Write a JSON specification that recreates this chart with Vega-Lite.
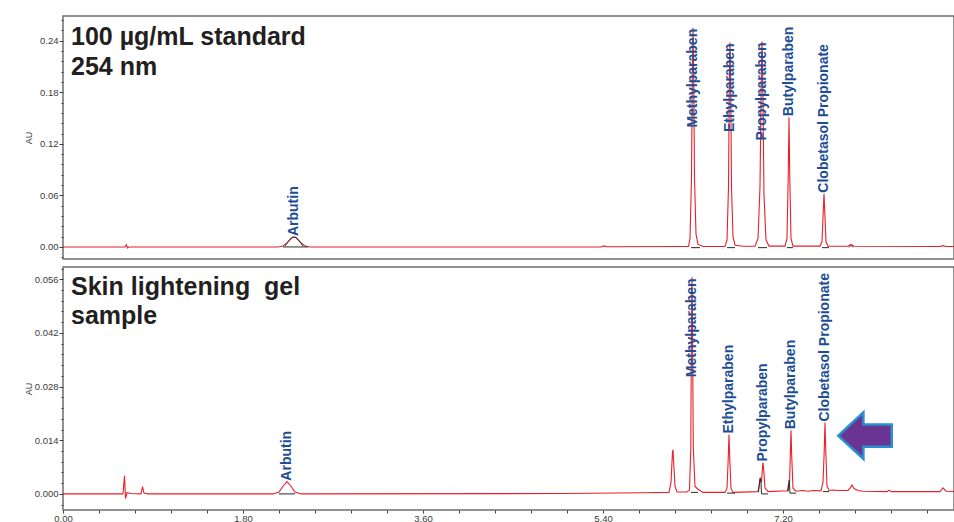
{
  "$schema": "https://vega.github.io/schema/vega-lite/v6.json",
  "padding": {"left": 23, "top": 15, "right": 0, "bottom": 0},
  "spacing": 6,
  "config": {
    "font": "Liberation Sans",
    "view": {"stroke": "#6e6e6e", "strokeWidth": 1.5},
    "axis": {
      "domain": false,
      "grid": false,
      "tickColor": "#404040",
      "tickWidth": 1,
      "labelColor": "#3a3a3a",
      "labelFont": "Liberation Sans",
      "labelFontSize": 9.5,
      "labelPadding": 1,
      "titleFont": "Liberation Sans",
      "titleFontSize": 9,
      "titleFontWeight": "normal",
      "titleColor": "#3a3a3a"
    }
  },
  "datasets": {
    "trace": [
      {"panel": "standard", "rt": 0, "au": 0},
      {"panel": "standard", "rt": 0.62, "au": 0},
      {"panel": "standard", "rt": 0.635, "au": 0.0025},
      {"panel": "standard", "rt": 0.645, "au": -0.001},
      {"panel": "standard", "rt": 0.66, "au": 0},
      {"panel": "standard", "rt": 2.15, "au": 0},
      {"panel": "standard", "rt": 2.2, "au": 0.001},
      {"panel": "standard", "rt": 2.25, "au": 0.006},
      {"panel": "standard", "rt": 2.29, "au": 0.011},
      {"panel": "standard", "rt": 2.31, "au": 0.0115},
      {"panel": "standard", "rt": 2.33, "au": 0.011},
      {"panel": "standard", "rt": 2.37, "au": 0.006},
      {"panel": "standard", "rt": 2.42, "au": 0.001},
      {"panel": "standard", "rt": 2.47, "au": 0},
      {"panel": "standard", "rt": 5.38, "au": 0},
      {"panel": "standard", "rt": 5.41, "au": 0.0012},
      {"panel": "standard", "rt": 5.44, "au": 0.0003},
      {"panel": "standard", "rt": 6.22, "au": 0.0005},
      {"panel": "standard", "rt": 6.255, "au": 0.0005},
      {"panel": "standard", "rt": 6.27, "au": 0.01},
      {"panel": "standard", "rt": 6.285, "au": 0.08},
      {"panel": "standard", "rt": 6.293, "au": 0.2},
      {"panel": "standard", "rt": 6.3, "au": 0.255},
      {"panel": "standard", "rt": 6.307, "au": 0.2},
      {"panel": "standard", "rt": 6.315, "au": 0.08},
      {"panel": "standard", "rt": 6.33, "au": 0.015},
      {"panel": "standard", "rt": 6.35, "au": 0.003},
      {"panel": "standard", "rt": 6.4, "au": 0.0005},
      {"panel": "standard", "rt": 6.62, "au": 0.0005},
      {"panel": "standard", "rt": 6.64, "au": 0.008},
      {"panel": "standard", "rt": 6.655, "au": 0.07},
      {"panel": "standard", "rt": 6.663, "au": 0.19},
      {"panel": "standard", "rt": 6.67, "au": 0.238},
      {"panel": "standard", "rt": 6.677, "au": 0.19},
      {"panel": "standard", "rt": 6.685, "au": 0.07},
      {"panel": "standard", "rt": 6.7, "au": 0.012},
      {"panel": "standard", "rt": 6.72, "au": 0.002},
      {"panel": "standard", "rt": 6.8, "au": 0.0008},
      {"panel": "standard", "rt": 6.92, "au": 0.001},
      {"panel": "standard", "rt": 6.95, "au": 0.01},
      {"panel": "standard", "rt": 6.97, "au": 0.07},
      {"panel": "standard", "rt": 6.982, "au": 0.19},
      {"panel": "standard", "rt": 6.99, "au": 0.239},
      {"panel": "standard", "rt": 6.998, "au": 0.19},
      {"panel": "standard", "rt": 7.01, "au": 0.06},
      {"panel": "standard", "rt": 7.03, "au": 0.008},
      {"panel": "standard", "rt": 7.06, "au": 0.001},
      {"panel": "standard", "rt": 7.22, "au": 0.001},
      {"panel": "standard", "rt": 7.24, "au": 0.01},
      {"panel": "standard", "rt": 7.252, "au": 0.08},
      {"panel": "standard", "rt": 7.26, "au": 0.151},
      {"panel": "standard", "rt": 7.268, "au": 0.08},
      {"panel": "standard", "rt": 7.28, "au": 0.01},
      {"panel": "standard", "rt": 7.3, "au": 0.001},
      {"panel": "standard", "rt": 7.57, "au": 0.001},
      {"panel": "standard", "rt": 7.59, "au": 0.006},
      {"panel": "standard", "rt": 7.6, "au": 0.035},
      {"panel": "standard", "rt": 7.61, "au": 0.062},
      {"panel": "standard", "rt": 7.62, "au": 0.035},
      {"panel": "standard", "rt": 7.63, "au": 0.006},
      {"panel": "standard", "rt": 7.65, "au": 0.001},
      {"panel": "standard", "rt": 7.85, "au": 0.0008},
      {"panel": "standard", "rt": 7.88, "au": 0.003},
      {"panel": "standard", "rt": 7.91, "au": 0.0008},
      {"panel": "standard", "rt": 8.77, "au": 0.0005},
      {"panel": "standard", "rt": 8.8, "au": 0.0015},
      {"panel": "standard", "rt": 8.83, "au": 0.0005},
      {"panel": "standard", "rt": 8.92, "au": 0.0005},

      {"panel": "sample", "rt": 0, "au": 0},
      {"panel": "sample", "rt": 0.6, "au": 0},
      {"panel": "sample", "rt": 0.615, "au": 0.0047},
      {"panel": "sample", "rt": 0.625, "au": -0.0012},
      {"panel": "sample", "rt": 0.64, "au": 0.0003},
      {"panel": "sample", "rt": 0.68, "au": 0.0001},
      {"panel": "sample", "rt": 0.78, "au": 0},
      {"panel": "sample", "rt": 0.795, "au": 0.0019},
      {"panel": "sample", "rt": 0.81, "au": 0.0002},
      {"panel": "sample", "rt": 0.85, "au": 0},
      {"panel": "sample", "rt": 2.1, "au": 0},
      {"panel": "sample", "rt": 2.16, "au": 0.0005},
      {"panel": "sample", "rt": 2.2, "au": 0.002},
      {"panel": "sample", "rt": 2.24, "au": 0.0032},
      {"panel": "sample", "rt": 2.28, "au": 0.002},
      {"panel": "sample", "rt": 2.32, "au": 0.0005},
      {"panel": "sample", "rt": 2.38, "au": 0},
      {"panel": "sample", "rt": 5.0, "au": 0.0001},
      {"panel": "sample", "rt": 5.8, "au": 0.0003},
      {"panel": "sample", "rt": 6.06, "au": 0.0004},
      {"panel": "sample", "rt": 6.08, "au": 0.003},
      {"panel": "sample", "rt": 6.095, "au": 0.011},
      {"panel": "sample", "rt": 6.1, "au": 0.0115},
      {"panel": "sample", "rt": 6.105, "au": 0.009},
      {"panel": "sample", "rt": 6.12, "au": 0.002},
      {"panel": "sample", "rt": 6.14, "au": 0.0005},
      {"panel": "sample", "rt": 6.24, "au": 0.0005},
      {"panel": "sample", "rt": 6.265, "au": 0.001},
      {"panel": "sample", "rt": 6.278, "au": 0.012},
      {"panel": "sample", "rt": 6.285, "au": 0.045},
      {"panel": "sample", "rt": 6.29, "au": 0.0565},
      {"panel": "sample", "rt": 6.295, "au": 0.045},
      {"panel": "sample", "rt": 6.303, "au": 0.012},
      {"panel": "sample", "rt": 6.32, "au": 0.002},
      {"panel": "sample", "rt": 6.35, "au": 0.0012},
      {"panel": "sample", "rt": 6.4, "au": 0.0004},
      {"panel": "sample", "rt": 6.62, "au": 0.0004},
      {"panel": "sample", "rt": 6.64, "au": 0.0015},
      {"panel": "sample", "rt": 6.652, "au": 0.009},
      {"panel": "sample", "rt": 6.66, "au": 0.0155},
      {"panel": "sample", "rt": 6.668, "au": 0.009},
      {"panel": "sample", "rt": 6.68, "au": 0.0015},
      {"panel": "sample", "rt": 6.7, "au": 0.0004},
      {"panel": "sample", "rt": 6.95, "au": 0.0006},
      {"panel": "sample", "rt": 6.96, "au": 0.002},
      {"panel": "sample", "rt": 6.975, "au": 0.0038},
      {"panel": "sample", "rt": 6.985, "au": 0.003},
      {"panel": "sample", "rt": 6.995, "au": 0.007},
      {"panel": "sample", "rt": 7.0, "au": 0.0082},
      {"panel": "sample", "rt": 7.008, "au": 0.006},
      {"panel": "sample", "rt": 7.02, "au": 0.0015},
      {"panel": "sample", "rt": 7.05, "au": 0.0006},
      {"panel": "sample", "rt": 7.245, "au": 0.0008},
      {"panel": "sample", "rt": 7.255, "au": 0.0025},
      {"panel": "sample", "rt": 7.265, "au": 0.003},
      {"panel": "sample", "rt": 7.273, "au": 0.01},
      {"panel": "sample", "rt": 7.28, "au": 0.0166},
      {"panel": "sample", "rt": 7.287, "au": 0.01},
      {"panel": "sample", "rt": 7.3, "au": 0.0015},
      {"panel": "sample", "rt": 7.33, "au": 0.0007},
      {"panel": "sample", "rt": 7.4, "au": 0.0009},
      {"panel": "sample", "rt": 7.45, "au": 0.0007},
      {"panel": "sample", "rt": 7.5, "au": 0.0009},
      {"panel": "sample", "rt": 7.58, "au": 0.0008},
      {"panel": "sample", "rt": 7.6, "au": 0.003},
      {"panel": "sample", "rt": 7.612, "au": 0.011},
      {"panel": "sample", "rt": 7.62, "au": 0.0186},
      {"panel": "sample", "rt": 7.628, "au": 0.011},
      {"panel": "sample", "rt": 7.64, "au": 0.002},
      {"panel": "sample", "rt": 7.66, "au": 0.0009},
      {"panel": "sample", "rt": 7.7, "au": 0.001},
      {"panel": "sample", "rt": 7.75, "au": 0.0009},
      {"panel": "sample", "rt": 7.85, "au": 0.0009},
      {"panel": "sample", "rt": 7.87, "au": 0.0015},
      {"panel": "sample", "rt": 7.89, "au": 0.0023},
      {"panel": "sample", "rt": 7.91, "au": 0.0014},
      {"panel": "sample", "rt": 7.95, "au": 0.0009},
      {"panel": "sample", "rt": 8.0, "au": 0.0007},
      {"panel": "sample", "rt": 8.24, "au": 0.0006},
      {"panel": "sample", "rt": 8.26, "au": 0.001},
      {"panel": "sample", "rt": 8.28, "au": 0.0006},
      {"panel": "sample", "rt": 8.77, "au": 0.0006},
      {"panel": "sample", "rt": 8.8, "au": 0.0016},
      {"panel": "sample", "rt": 8.83, "au": 0.0007},
      {"panel": "sample", "rt": 8.92, "au": 0.0006}
    ],
    "base": [
      {"panel": "standard", "seg": "a1", "rt": 2.2, "au": 0},
      {"panel": "standard", "seg": "a1", "rt": 2.45, "au": 0},
      {"panel": "standard", "seg": "a2", "rt": 2.22, "au": 0.001},
      {"panel": "standard", "seg": "a2", "rt": 2.25, "au": 0.006},
      {"panel": "standard", "seg": "a2", "rt": 2.29, "au": 0.011},
      {"panel": "standard", "seg": "a2", "rt": 2.31, "au": 0.0115},
      {"panel": "standard", "seg": "a2", "rt": 2.33, "au": 0.011},
      {"panel": "standard", "seg": "a2", "rt": 2.37, "au": 0.006},
      {"panel": "standard", "seg": "a2", "rt": 2.4, "au": 0.001},
      {"panel": "standard", "seg": "m", "rt": 6.28, "au": -0.0008},
      {"panel": "standard", "seg": "m", "rt": 6.37, "au": -0.0008},
      {"panel": "standard", "seg": "e", "rt": 6.64, "au": -0.0008},
      {"panel": "standard", "seg": "e", "rt": 6.72, "au": -0.0008},
      {"panel": "standard", "seg": "p", "rt": 6.95, "au": -0.0008},
      {"panel": "standard", "seg": "p", "rt": 7.04, "au": -0.0008},
      {"panel": "standard", "seg": "b", "rt": 7.24, "au": -0.0008},
      {"panel": "standard", "seg": "b", "rt": 7.3, "au": -0.0008},
      {"panel": "standard", "seg": "c", "rt": 7.59, "au": -0.0008},
      {"panel": "standard", "seg": "c", "rt": 7.66, "au": -0.0008},
      {"panel": "standard", "seg": "u", "rt": 7.86, "au": -0.0005},
      {"panel": "standard", "seg": "u", "rt": 7.88, "au": 0.002},
      {"panel": "standard", "seg": "u", "rt": 7.9, "au": -0.0005},
      {"panel": "sample", "seg": "a1", "rt": 2.16, "au": 0},
      {"panel": "sample", "seg": "a1", "rt": 2.32, "au": 0},
      {"panel": "sample", "seg": "m", "rt": 6.28, "au": 0.0004},
      {"panel": "sample", "seg": "m", "rt": 6.35, "au": 0.0004},
      {"panel": "sample", "seg": "e", "rt": 6.64, "au": 0.0002},
      {"panel": "sample", "seg": "e", "rt": 6.72, "au": 0.0002},
      {"panel": "sample", "seg": "p1", "rt": 6.955, "au": 0.0005},
      {"panel": "sample", "seg": "p1", "rt": 6.97, "au": 0.0042},
      {"panel": "sample", "seg": "p1", "rt": 6.978, "au": 0.004},
      {"panel": "sample", "seg": "p1", "rt": 6.985, "au": 0},
      {"panel": "sample", "seg": "p2", "rt": 6.985, "au": 0},
      {"panel": "sample", "seg": "p2", "rt": 7.05, "au": 0},
      {"panel": "sample", "seg": "b1", "rt": 7.25, "au": 0.0006},
      {"panel": "sample", "seg": "b1", "rt": 7.262, "au": 0.0036},
      {"panel": "sample", "seg": "b1", "rt": 7.27, "au": 0.0002},
      {"panel": "sample", "seg": "b2", "rt": 7.27, "au": 0.0002},
      {"panel": "sample", "seg": "b2", "rt": 7.33, "au": 0.0002},
      {"panel": "sample", "seg": "c", "rt": 7.6, "au": 0.0006},
      {"panel": "sample", "seg": "c", "rt": 7.66, "au": 0.0006}
    ],
    "labels": [
      {"panel": "standard", "name": "Arbutin", "rt": 2.31, "height": 0.0115},
      {"panel": "standard", "name": "Methylparaben", "rt": 6.3, "height": 0.255},
      {"panel": "standard", "name": "Ethylparaben", "rt": 6.67, "height": 0.238},
      {"panel": "standard", "name": "Propylparaben", "rt": 6.99, "height": 0.239},
      {"panel": "standard", "name": "Butylparaben", "rt": 7.26, "height": 0.151},
      {"panel": "standard", "name": "Clobetasol Propionate", "rt": 7.61, "height": 0.062},
      {"panel": "sample", "name": "Arbutin", "rt": 2.24, "height": 0.0032},
      {"panel": "sample", "name": "Methylparaben", "rt": 6.29, "height": 0.0565},
      {"panel": "sample", "name": "Ethylparaben", "rt": 6.66, "height": 0.0155},
      {"panel": "sample", "name": "Propylparaben", "rt": 7.0, "height": 0.0082},
      {"panel": "sample", "name": "Butylparaben", "rt": 7.28, "height": 0.0166},
      {"panel": "sample", "name": "Clobetasol Propionate", "rt": 7.62, "height": 0.0186}
    ],
    "titles": [
      {"panel": "standard", "text": "100 µg/mL standard", "rt": 0.08, "au": 0.2352},
      {"panel": "standard", "text": "254 nm", "rt": 0.08, "au": 0.2002},
      {"panel": "sample", "text": "Skin lightening \u00a0gel", "rt": 0.08, "au": 0.0518},
      {"panel": "sample", "text": "sample", "rt": 0.08, "au": 0.0442}
    ],
    "arrow": [
      {"panel": "sample", "rt": 8.02, "au": 0.0152}
    ]
  },
  "vconcat": [
    {
      "width": 891,
      "height": 243,
      "resolve": {"axis": {"y": "independent"}},
      "layer": [
        {
          "data": {"name": "trace"},
          "transform": [{"filter": "datum.panel === 'standard'"}],
          "mark": {"type": "line", "color": "#e8202a", "strokeWidth": 1.1, "clip": true},
          "encoding": {
            "x": {"field": "rt", "type": "quantitative", "scale": {"domain": [0, 8.91], "nice": false, "zero": false}, "axis": null},
            "y": {
              "field": "au", "type": "quantitative",
              "scale": {"domain": [-0.014, 0.2687], "nice": false, "zero": false},
              "axis": {
                "orient": "left",
                "title": "AU",
                "titleX": -34.5,
                "titleY": 121.5,
                "titleBaseline": "middle",
                "titleAlign": "center",
                "values": [0, 0.06, 0.12, 0.18, 0.24],
                "format": ".2f",
                "tickSize": 4
              }
            }
          }
        },
        {
          "data": {"name": "base"},
          "transform": [{"filter": "datum.panel === 'standard'"}],
          "mark": {"type": "line", "color": "#2a2a2a", "strokeWidth": 1, "clip": true},
          "encoding": {
            "x": {"field": "rt", "type": "quantitative", "scale": {"domain": [0, 8.91], "nice": false, "zero": false}, "axis": null},
            "y": {
              "field": "au", "type": "quantitative",
              "scale": {"domain": [-0.014, 0.2687], "nice": false, "zero": false},
              "axis": {
                "orient": "left",
                "title": null,
                "labels": false,
                "tickSize": 2,
                "values": [-0.012, 0.012, 0.024, 0.036, 0.048, 0.072, 0.084, 0.096, 0.108, 0.132, 0.144, 0.156, 0.168, 0.192, 0.204, 0.216, 0.228, 0.252, 0.264]
              }
            },
            "detail": {"field": "seg", "type": "nominal"}
          }
        },
        {
          "data": {"name": "labels"},
          "transform": [{"filter": "datum.panel === 'standard' && datum.height <= 0.2"}],
          "mark": {"type": "text", "angle": 270, "align": "left", "baseline": "middle", "dx": 1, "fontSize": 14, "fontWeight": "bold", "color": "#1d4e94", "font": "Liberation Sans"},
          "encoding": {
            "x": {"field": "rt", "type": "quantitative", "scale": {"domain": [0, 8.91], "nice": false, "zero": false}, "axis": null},
            "y": {"field": "height", "type": "quantitative", "scale": {"domain": [-0.014, 0.2687], "nice": false, "zero": false}, "axis": null},
            "text": {"field": "name"}
          }
        },
        {
          "data": {"name": "labels"},
          "transform": [{"filter": "datum.panel === 'standard' && datum.height > 0.2"}],
          "mark": {"type": "text", "angle": 270, "align": "right", "baseline": "middle", "dx": -1, "fontSize": 14, "fontWeight": "bold", "color": "#1d4e94", "font": "Liberation Sans"},
          "encoding": {
            "x": {"field": "rt", "type": "quantitative", "scale": {"domain": [0, 8.91], "nice": false, "zero": false}, "axis": null},
            "y": {"field": "height", "type": "quantitative", "scale": {"domain": [-0.014, 0.2687], "nice": false, "zero": false}, "axis": null},
            "text": {"field": "name"}
          }
        },
        {
          "data": {"name": "titles"},
          "transform": [{"filter": "datum.panel === 'standard'"}],
          "mark": {"type": "text", "align": "left", "baseline": "alphabetic", "fontSize": 25, "fontWeight": "bold", "color": "#231f20", "font": "Liberation Sans"},
          "encoding": {
            "x": {"field": "rt", "type": "quantitative", "scale": {"domain": [0, 8.91], "nice": false, "zero": false}, "axis": null},
            "y": {"field": "au", "type": "quantitative", "scale": {"domain": [-0.014, 0.2687], "nice": false, "zero": false}, "axis": null},
            "text": {"field": "text"}
          }
        }
      ]
    },
    {
      "width": 891,
      "height": 243,
      "resolve": {"axis": {"x": "independent", "y": "independent"}},
      "layer": [
        {
          "data": {"name": "trace"},
          "transform": [{"filter": "datum.panel === 'sample'"}],
          "mark": {"type": "line", "color": "#e8202a", "strokeWidth": 1.1, "clip": true},
          "encoding": {
            "x": {
              "field": "rt", "type": "quantitative",
              "scale": {"domain": [0, 8.91], "nice": false, "zero": false},
              "axis": {
                "orient": "bottom",
                "title": null,
                "values": [0, 1.8, 3.6, 5.4, 7.2],
                "format": ".2f",
                "tickSize": 3,
                "labelPadding": 0,
                "labelFlush": false
              }
            },
            "y": {
              "field": "au", "type": "quantitative",
              "scale": {"domain": [-0.0042, 0.0592], "nice": false, "zero": false},
              "axis": {
                "orient": "left",
                "title": "AU",
                "titleX": -34.5,
                "titleY": 121.5,
                "titleBaseline": "middle",
                "titleAlign": "center",
                "values": [0, 0.014, 0.028, 0.042, 0.056],
                "format": ".3f",
                "tickSize": 4
              }
            }
          }
        },
        {
          "data": {"name": "base"},
          "transform": [{"filter": "datum.panel === 'sample'"}],
          "mark": {"type": "line", "color": "#2a2a2a", "strokeWidth": 1, "clip": true},
          "encoding": {
            "x": {
              "field": "rt", "type": "quantitative",
              "scale": {"domain": [0, 8.91], "nice": false, "zero": false},
              "axis": {
                "orient": "bottom",
                "title": null,
                "labels": false,
                "tickSize": 3,
                "values": [0.36, 0.72, 1.08, 1.44, 2.16, 2.52, 2.88, 3.24, 3.96, 4.32, 4.68, 5.04, 5.76, 6.12, 6.48, 6.84, 7.56, 7.92, 8.28, 8.64]
              }
            },
            "y": {
              "field": "au", "type": "quantitative",
              "scale": {"domain": [-0.0042, 0.0592], "nice": false, "zero": false},
              "axis": {
                "orient": "left",
                "title": null,
                "labels": false,
                "tickSize": 2,
                "values": [-0.0028, 0.0028, 0.0056, 0.0084, 0.0112, 0.0168, 0.0196, 0.0224, 0.0252, 0.0308, 0.0336, 0.0364, 0.0392, 0.0448, 0.0476, 0.0504, 0.0532, 0.0588]
              }
            },
            "detail": {"field": "seg", "type": "nominal"}
          }
        },
        {
          "data": {"name": "labels"},
          "transform": [{"filter": "datum.panel === 'sample' && datum.height <= 0.04"}],
          "mark": {"type": "text", "angle": 270, "align": "left", "baseline": "middle", "dx": 1, "fontSize": 14, "fontWeight": "bold", "color": "#1d4e94", "font": "Liberation Sans"},
          "encoding": {
            "x": {"field": "rt", "type": "quantitative", "scale": {"domain": [0, 8.91], "nice": false, "zero": false}, "axis": null},
            "y": {"field": "height", "type": "quantitative", "scale": {"domain": [-0.0042, 0.0592], "nice": false, "zero": false}, "axis": null},
            "text": {"field": "name"}
          }
        },
        {
          "data": {"name": "labels"},
          "transform": [{"filter": "datum.panel === 'sample' && datum.height > 0.04"}],
          "mark": {"type": "text", "angle": 270, "align": "right", "baseline": "middle", "dx": -1, "fontSize": 14, "fontWeight": "bold", "color": "#1d4e94", "font": "Liberation Sans"},
          "encoding": {
            "x": {"field": "rt", "type": "quantitative", "scale": {"domain": [0, 8.91], "nice": false, "zero": false}, "axis": null},
            "y": {"field": "height", "type": "quantitative", "scale": {"domain": [-0.0042, 0.0592], "nice": false, "zero": false}, "axis": null},
            "text": {"field": "name"}
          }
        },
        {
          "data": {"name": "titles"},
          "transform": [{"filter": "datum.panel === 'sample'"}],
          "mark": {"type": "text", "align": "left", "baseline": "alphabetic", "fontSize": 25, "fontWeight": "bold", "color": "#231f20", "font": "Liberation Sans"},
          "encoding": {
            "x": {"field": "rt", "type": "quantitative", "scale": {"domain": [0, 8.91], "nice": false, "zero": false}, "axis": null},
            "y": {"field": "au", "type": "quantitative", "scale": {"domain": [-0.0042, 0.0592], "nice": false, "zero": false}, "axis": null},
            "text": {"field": "text"}
          }
        },
        {
          "data": {"name": "arrow"},
          "mark": {"type": "point", "shape": "M-1,0L-0.06,-0.87L-0.06,-0.42L1,-0.42L1,0.42L-0.06,0.42L-0.06,0.87Z", "size": 2852, "filled": true, "fill": "#6a3592", "stroke": "#2a8fd0", "strokeWidth": 2.5, "opacity": 1},
          "encoding": {
            "x": {"field": "rt", "type": "quantitative", "scale": {"domain": [0, 8.91], "nice": false, "zero": false}, "axis": null},
            "y": {"field": "au", "type": "quantitative", "scale": {"domain": [-0.0042, 0.0592], "nice": false, "zero": false}, "axis": null}
          }
        }
      ]
    }
  ]
}
